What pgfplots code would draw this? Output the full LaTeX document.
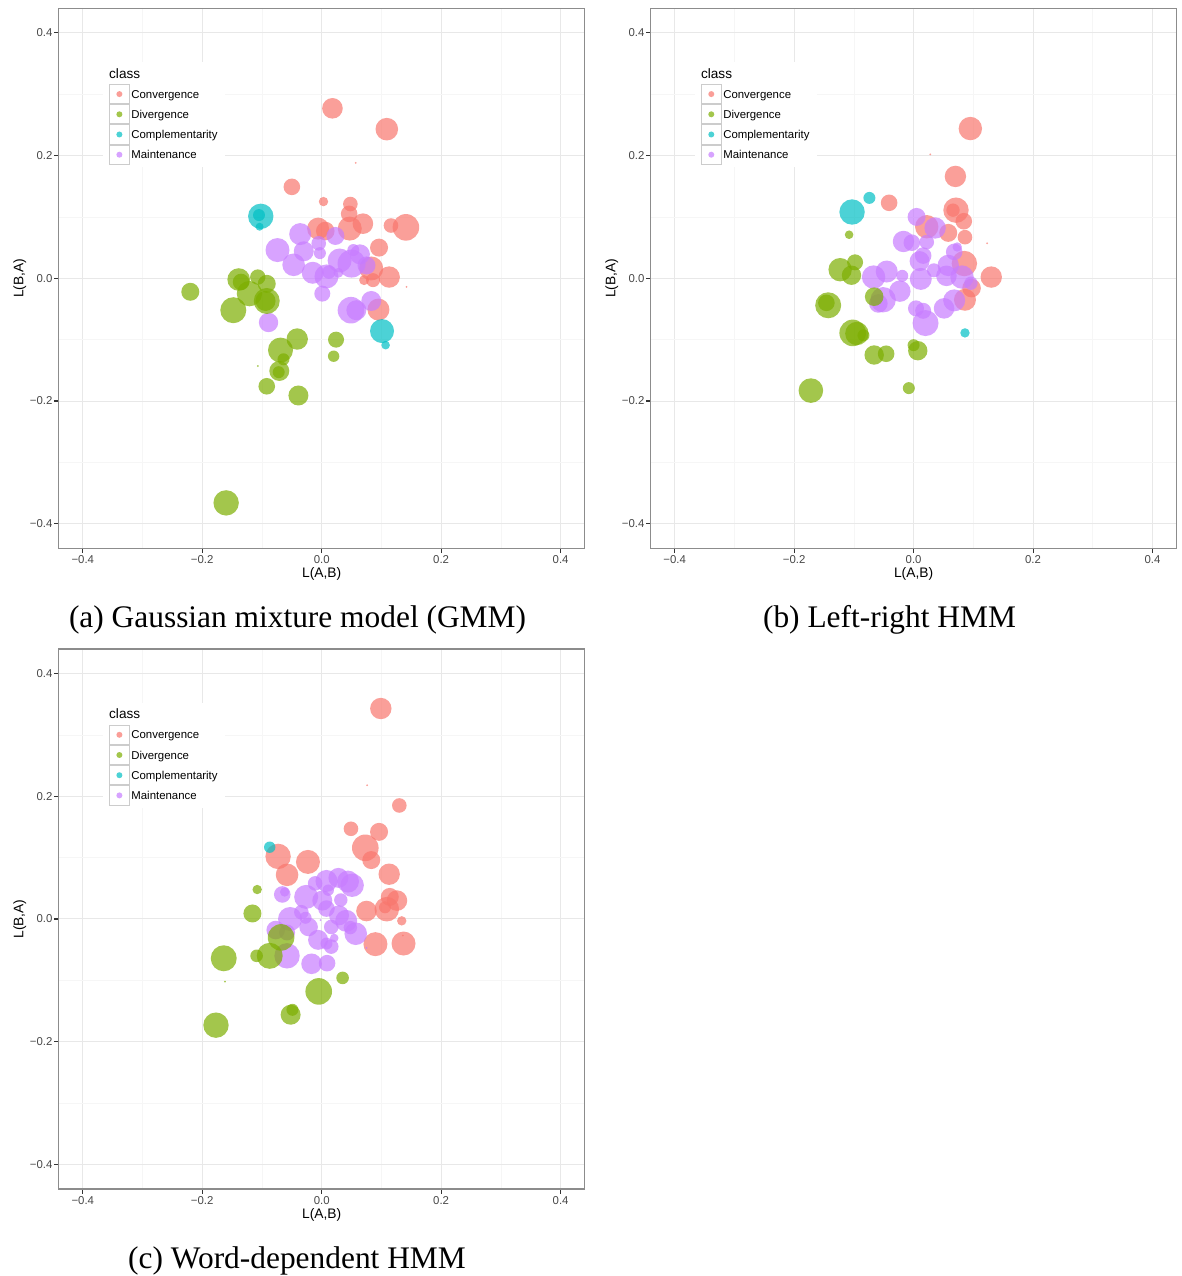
\documentclass[border=0pt]{standalone}
\usepackage{fontspec}
\setmainfont{Liberation Sans}
\newfontfamily\capfont{Liberation Serif}
\usepackage{pgfplots}
\pgfplotsset{compat=1.18}
\usepackage{pgfplotstable}

\definecolor{cConv}{HTML}{F8766D}
\definecolor{cDiv}{HTML}{7CAE00}
\definecolor{cComp}{HTML}{00BFC4}
\definecolor{cMaint}{HTML}{C77CFF}
\definecolor{gridmaj}{HTML}{E8E8E8}
\definecolor{gridmin}{HTML}{F6F6F6}
\definecolor{bordercol}{HTML}{8C8C8C}

% ---------------- Panel (a): GMM ----------------
\pgfplotstableread{
x y r
0.018 0.277 10.3
0.109 0.243 11.3
0.057 0.188 1
-0.050 0.149 8.3
0.003 0.125 4.7
0.048 0.121 7.3
0.046 0.105 8.3
0.069 0.089 10.3
0.116 0.086 7.3
0.141 0.083 13.3
-0.006 0.081 11
0.006 0.077 9.3
0.047 0.081 12
0.096 0.050 9
0.083 0.016 12
0.113 0.002 10.7
0.071 -0.003 5
0.086 -0.003 7
0.095 -0.051 11
0.142 -0.014 1
}\aConv
\pgfplotstableread{
x y r
-0.220 -0.022 9
-0.139 -0.002 11.3
-0.135 -0.006 8.3
-0.107 0.002 7.7
-0.092 -0.009 9
-0.121 -0.025 12.7
-0.148 -0.052 13
-0.092 -0.037 13
-0.094 -0.037 10
-0.041 -0.099 10.7
-0.069 -0.117 12.5
0.024 -0.100 8
0.020 -0.127 5.7
-0.064 -0.132 6
-0.071 -0.151 10
-0.072 -0.153 6
-0.092 -0.176 8.3
-0.039 -0.191 10
-0.107 -0.143 1
-0.160 -0.366 12.7
}\aDiv
\pgfplotstableread{
x y r
-0.102 0.101 12.7
-0.105 0.103 6
-0.104 0.084 4
0.101 -0.086 12
0.107 -0.109 4.3
}\aComp
\pgfplotstableread{
x y r
-0.036 0.072 11
-0.074 0.046 12
-0.030 0.044 10
-0.005 0.057 7.3
-0.003 0.041 6
0.023 0.069 9
-0.047 0.022 11.3
0.030 0.029 12
0.050 0.024 14
0.064 0.039 10
0.053 0.046 6
0.075 0.021 9
-0.015 0.009 11
0.008 0.003 12
0.012 0.010 6.7
0.001 -0.025 8
0.049 -0.052 13.3
0.058 -0.052 10
0.083 -0.037 10
-0.089 -0.072 9.7
0.028 0.009 5
}\aMaint

% ---------------- Panel (b): Left-right HMM ----------------
\pgfplotstableread{
x y r
0.095 0.244 11.7
0.028 0.202 1
0.070 0.166 10.7
-0.041 0.123 8.3
0.071 0.111 12.7
0.066 0.111 6.7
0.084 0.093 8.3
0.022 0.084 11.7
0.058 0.074 9
0.086 0.067 7.3
0.123 0.057 1
0.085 0.024 12.7
0.130 0.002 10.7
0.097 -0.016 9.3
0.086 -0.035 11
}\bConv
\pgfplotstableread{
x y r
-0.108 0.071 4.3
-0.123 0.014 11.7
-0.098 0.026 8
-0.104 0.005 9.7
-0.143 -0.044 13
-0.146 -0.040 8.3
-0.066 -0.030 9.3
-0.102 -0.089 13.3
-0.095 -0.090 11.7
-0.084 -0.093 6
0.000 -0.109 6
0.007 -0.118 9.7
-0.066 -0.125 9.7
-0.046 -0.123 8.3
-0.008 -0.179 6
-0.172 -0.183 12.3
}\bDiv
\pgfplotstableread{
x y r
-0.103 0.108 12.7
-0.074 0.131 6
0.086 -0.089 4.7
}\bComp
\pgfplotstableread{
x y r
0.005 0.100 9
0.036 0.082 10.7
-0.017 0.060 10.7
-0.003 0.058 8.3
0.022 0.059 7.3
0.073 0.051 4.7
0.068 0.043 8.3
0.016 0.037 8.3
0.010 0.028 10
0.058 0.021 10.7
-0.045 0.011 11
-0.019 0.004 6
-0.067 0.002 11.7
0.034 0.013 7
0.012 -0.001 11
0.055 0.004 10.3
0.081 0.002 11.7
-0.023 -0.021 10.7
-0.051 -0.035 12.7
-0.059 -0.041 9.3
0.096 -0.008 6.7
0.068 -0.036 11
0.051 -0.049 10.3
0.004 -0.049 8
0.016 -0.053 8
0.020 -0.073 13
}\bMaint

% ---------------- Panel (c): Word-dependent HMM ----------------
\pgfplotstableread{
x y r
0.099 0.343 10.7
0.076 0.218 1
0.130 0.185 7.3
0.049 0.147 7.3
0.096 0.142 9
0.073 0.116 13.3
0.083 0.096 9
-0.073 0.102 12.7
-0.023 0.093 12
-0.058 0.072 11.3
0.113 0.073 10.7
0.114 0.036 9
0.126 0.030 10.3
0.109 0.016 12.3
0.106 0.019 6
0.075 0.013 10.3
0.134 -0.003 4.7
0.136 -0.027 1
0.090 -0.041 12
0.137 -0.040 12
}\cConvT
\pgfplotstableread{
x y r
-0.108 0.048 4.7
-0.116 0.009 9
-0.068 -0.030 13.3
-0.164 -0.064 13
-0.109 -0.060 6.3
-0.087 -0.060 13
0.035 -0.096 6.3
-0.005 -0.118 13.3
-0.052 -0.156 10
-0.049 -0.148 6
-0.177 -0.173 12.7
-0.162 -0.102 1
}\cDivT
\pgfplotstableread{
x y r
-0.087 0.117 5.7
}\cCompT
\pgfplotstableread{
x y r
-0.066 0.040 8.3
-0.062 0.044 4.7
-0.011 0.058 7.3
0.008 0.062 11
0.028 0.067 10
0.044 0.061 11
0.051 0.055 11.7
0.011 0.047 5.7
-0.026 0.036 12
0.032 0.031 6.7
0.001 0.030 10
0.008 0.017 8.3
-0.034 0.011 7.3
-0.053 0.000 12
-0.027 0.002 6
0.029 0.006 10
0.041 -0.003 11
-0.022 -0.013 9.3
0.016 -0.013 7.3
0.057 -0.024 11.3
0.048 -0.014 6.7
-0.077 -0.018 9.3
-0.058 -0.022 8
-0.006 -0.034 10
0.021 -0.031 4.3
0.016 -0.045 7.3
0.008 -0.040 6
-0.058 -0.060 12.7
-0.017 -0.073 10.3
0.009 -0.072 8.3
-0.002 -0.002 1
0.075 -0.047 1
}\cMaintT

\pgfplotsset{
  panel/.style={
    scale only axis, width=525.6pt, height=540pt, anchor=south west,
    xmin=-0.44, xmax=0.44, ymin=-0.44, ymax=0.44,
    xtick={-0.4,-0.2,0,0.2,0.4}, ytick={-0.4,-0.2,0,0.2,0.4},
    xticklabels={−0.4,−0.2,0.0,0.2,0.4},
    yticklabels={−0.4,−0.2,0.0,0.2,0.4},
    minor xtick={-0.3,-0.1,0.1,0.3}, minor ytick={-0.3,-0.1,0.1,0.3},
    grid=both,
    major grid style={draw=gridmaj, line width=1pt},
    minor grid style={draw=gridmin, line width=0.6pt},
    tick pos=left,
    tick align=outside, major tick length=4.8pt, minor tick length=0pt,
    major tick style={draw=black!80, line width=1.1pt},
    axis line style={draw=bordercol, line width=1.1pt},
    tick label style={font=\fontsize{11.4}{11.4}\selectfont, text=black!72, inner sep=0pt},
    xticklabel style={anchor=base},
    xticklabel shift=10.6pt,
    yticklabel style={anchor=east},
    yticklabel shift=1.4pt,
    xlabel={L(A,B)}, ylabel={L(B,A)},
    label style={font=\fontsize{13.8}{13.8}\selectfont, inner sep=0pt},
    xlabel style={at={(axis description cs:0.5,-0.0546)}, anchor=base},
    ylabel style={at={(axis description cs:-0.0674,0.5)}, anchor=base, rotate=0},
    legend cell align=left,
    legend style={at={(axis description cs:0.0839,0.8635)}, anchor=north west,
      fill=white, draw=none, inner xsep=6pt, inner ysep=2pt, outer sep=0pt,
      row sep=0pt, column sep=0pt,
      font=\fontsize{11.4}{11.4}\selectfont,
      nodes={inner xsep=1.6pt, inner ysep=0pt, text height=8.2pt, text depth=0pt}},
    legend image code/.code={
      \draw[draw=black!20, line width=1pt, fill=white] (0pt,-9.6pt) rectangle (19.8pt,9.6pt);
      \fill[#1, draw=none] (9.9pt,0pt) circle (3pt);
    },
  },
  bubbles/.style={
    only marks, scatter, mark=*, forget plot,
    mark options={draw opacity=0, line width=0pt},
    scatter/use mapped color={draw opacity=0, fill=#1, fill opacity=0.7},
    visualization depends on={\thisrow{r} \as \perpointsize},
    scatter/@pre marker code/.append style={/tikz/mark size=\perpointsize pt},
  },
}

\newcommand\classlegend{%
  \addlegendimage{fill=cConv, fill opacity=0.7}\addlegendentry{Convergence}
  \addlegendimage{fill=cDiv, fill opacity=0.7}\addlegendentry{Divergence}
  \addlegendimage{fill=cComp, fill opacity=0.7}\addlegendentry{Complementarity}
  \addlegendimage{fill=cMaint, fill opacity=0.7}\addlegendentry{Maintenance}
  \node[anchor=north west, fill=white, inner sep=0pt, minimum width=124pt, minimum height=22pt]
    at (axis description cs:0.0839,0.9006) {};
  \node[anchor=base west, inner sep=0pt, font=\fontsize{13.6}{13.6}\selectfont]
    at (axis description cs:0.0953,0.8709) {class};
}

\begin{document}
\begin{tikzpicture}[x=1pt,y=1pt]
\useasboundingbox (0,0) rectangle (1182,1276);

% (a)
\begin{axis}[panel, at={(58.9pt,727.7pt)}]
\classlegend
\addplot[bubbles=cConv] table {\aConv};
\addplot[bubbles=cMaint] table {\aMaint};
\addplot[bubbles=cDiv] table {\aDiv};
\addplot[bubbles=cComp] table {\aComp};
\end{axis}

% (b)
\begin{axis}[panel, at={(650.8pt,727.7pt)}]
\classlegend
\addplot[bubbles=cConv] table {\bConv};
\addplot[bubbles=cMaint] table {\bMaint};
\addplot[bubbles=cDiv] table {\bDiv};
\addplot[bubbles=cComp] table {\bComp};
\end{axis}

% (c)
\begin{axis}[panel, at={(58.9pt,87pt)}]
\classlegend
\addplot[bubbles=cConv] table {\cConvT};
\addplot[bubbles=cMaint] table {\cMaintT};
\addplot[bubbles=cDiv] table {\cDivT};
\addplot[bubbles=cComp] table {\cCompT};
\end{axis}

\node[anchor=base, inner sep=0pt, font=\capfont\fontsize{31.4}{31.4}\selectfont] at (297.5,648) {(a) Gaussian mixture model (GMM)};
\node[anchor=base, inner sep=0pt, font=\capfont\fontsize{31.4}{31.4}\selectfont] at (889.5,648) {(b) Left-right HMM};
\node[anchor=base, inner sep=0pt, font=\capfont\fontsize{31.4}{31.4}\selectfont] at (297,8) {(c) Word-dependent HMM};
\end{tikzpicture}
\end{document}
